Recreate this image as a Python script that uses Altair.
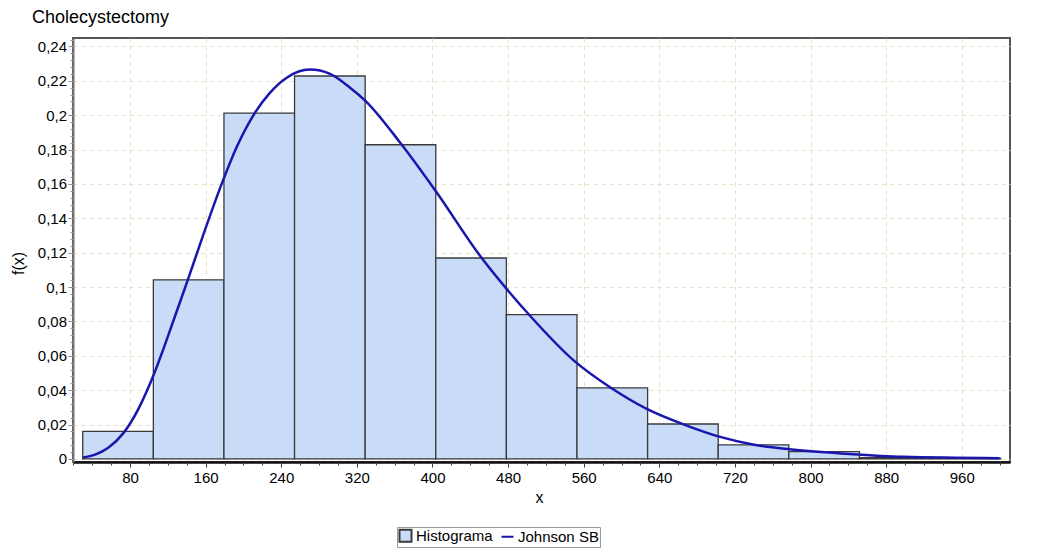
import altair as alt
import pandas as pd

FONT = "Liberation Sans"
BAR_FILL = "#c8dcf8"
BAR_STROKE = "#3a3a3a"
LINE_COLOR = "#1a16ad"
GRID = "#e6dfc8"

# Histogram (density per bin)
bin_start = [30.0, 104.7, 179.4, 254.1, 328.8, 403.5, 478.2, 552.9, 627.6, 702.3, 777.0, 851.7, 926.4]
bin_end = [104.7, 179.4, 254.1, 328.8, 403.5, 478.2, 552.9, 627.6, 702.3, 777.0, 851.7, 926.4, 1001.1]
density = [0.0160, 0.1042, 0.2012, 0.2228, 0.1828, 0.1169, 0.0840, 0.0413, 0.0203, 0.0082, 0.0042, 0.0008, 0.0005]

# Johnson SB fitted density
curve_x = [30, 43, 57, 73, 88.8, 104, 117, 127.6, 141.7, 157.6, 177, 192.9, 212.3, 228, 245.8,
           270.4, 291.6, 312.8, 328.8, 365.7, 404.5, 450.3, 478.6, 503.2, 549, 587.9, 626.7,
           669, 704.3, 743, 778, 838, 898, 1000]
curve_y = [0.0008, 0.0025, 0.0065, 0.0150, 0.0290, 0.0475, 0.0665, 0.0830, 0.1050, 0.1305, 0.1600,
           0.1815, 0.2015, 0.2130, 0.2218, 0.2265, 0.2240, 0.2160, 0.2085, 0.1841, 0.1550, 0.1182,
           0.0988, 0.0833, 0.0575, 0.0417, 0.0291, 0.0194, 0.0128, 0.0080, 0.0056, 0.0030,
           0.0012, 0.0004]

series_names = ["Histograma", "Johnson SB"]

x_major = [80, 160, 240, 320, 400, 480, 560, 640, 720, 800, 880, 960]
x_minor = list(range(20, 1011, 20))
y_major = [0, 0.02, 0.04, 0.06, 0.08, 0.1, 0.12, 0.14, 0.16, 0.18, 0.2, 0.22, 0.24]
y_minor = [round(i * 0.004, 3) for i in range(0, 62)]

df_bars = pd.DataFrame({"start": bin_start, "end": bin_end, "density": density,
                        "series": series_names[0]})
df_curve = pd.DataFrame({"x": curve_x, "y": curve_y, "series": series_names[1]})

xscale = alt.Scale(domain=[19.7, 1011], nice=False, zero=False)
yscale = alt.Scale(domain=[-0.0018, 0.2449], nice=False, zero=False)
stroke_scale = alt.Scale(domain=series_names, range=[BAR_STROKE, LINE_COLOR])

legend = alt.Legend(
    title=None, orient="none", legendX=324, legendY=489, direction="horizontal",
    symbolType=alt.ExprRef(expr="datum.value == 'Histograma' ? 'square' : 'stroke'"),
    symbolSize=144, symbolStrokeWidth=2, labelFontSize=15, labelFont=FONT,
    labelColor="black", labelOffset=3, columnPadding=4, padding=1,
    strokeColor="#999999", fillColor="white", labelLimit=0,
)

bars = alt.Chart(df_bars).mark_bar(fill=BAR_FILL, strokeWidth=1.3).encode(
    x=alt.X("start:Q", scale=xscale, axis=alt.Axis(
        orient="bottom", values=x_major, title="x", grid=True, gridDash=[4, 4],
        gridColor=GRID, gridWidth=1, domainColor="#111111", domainWidth=2.5,
        tickColor="#333333", tickSize=5, labelFontSize=15, labelFont=FONT,
        labelColor="black", labelPadding=3, labelFlush=False, labelOverlap=False,
        titleFontSize=16, titleFont=FONT, titleFontWeight="normal", titleColor="black",
        titleX=466, titleY=40, titleBaseline="alphabetic")),
    x2="end:Q",
    y=alt.Y("density:Q", scale=yscale, axis=alt.Axis(
        orient="left", values=y_major, title="f(x)", grid=True, gridDash=[4, 4],
        gridColor=GRID, gridWidth=1, domainColor="#777777", domainWidth=2,
        tickColor="#888888", tickSize=5, labelFontSize=15, labelFont=FONT,
        labelColor="black", labelPadding=1.5, labelFlush=False, labelOverlap=False,
        labelExpr="replace(format(datum.value, '.2~f'), '.', ',')",
        titleFontSize=16, titleFont=FONT, titleFontWeight="normal", titleColor="black",
        titleAngle=270, titleX=-50, titleY=225, titleBaseline="alphabetic",
        titleAlign="center")),
    y2=alt.datum(0),
    stroke=alt.Stroke("series:N", scale=stroke_scale, legend=legend),
)

curve = alt.Chart(df_curve).mark_line(strokeWidth=2.5, interpolate="monotone").encode(
    x=alt.X("x:Q", scale=xscale, axis=alt.Axis(
        orient="bottom", values=x_minor, labels=False, grid=False, domain=False,
        tickSize=3, tickColor="#444444", title=None)),
    y=alt.Y("y:Q", scale=yscale, axis=alt.Axis(
        orient="left", values=y_minor, labels=False, grid=False, domain=False,
        tickSize=3, tickColor="#999999", title=None)),
    stroke=alt.Stroke("series:N", scale=stroke_scale, legend=legend),
)

chart = alt.layer(bars, curve).resolve_axis(x="independent", y="independent").properties(
    width=937, height=424,
    padding={"left": 65, "top": 30, "right": 27, "bottom": 87},
    autosize=alt.AutoSizeParams(type="none"),
    background="white",
    title=alt.TitleParams("Cholecystectomy", anchor="start", frame="group", dx=-41, dy=17,
                          fontSize=18, font=FONT, fontWeight="normal", color="black",
                          baseline="alphabetic", offset=14),
).configure_view(stroke="#555555", strokeWidth=2)

chart.save("out.html", embed_options={"renderer": "svg", "actions": False})
